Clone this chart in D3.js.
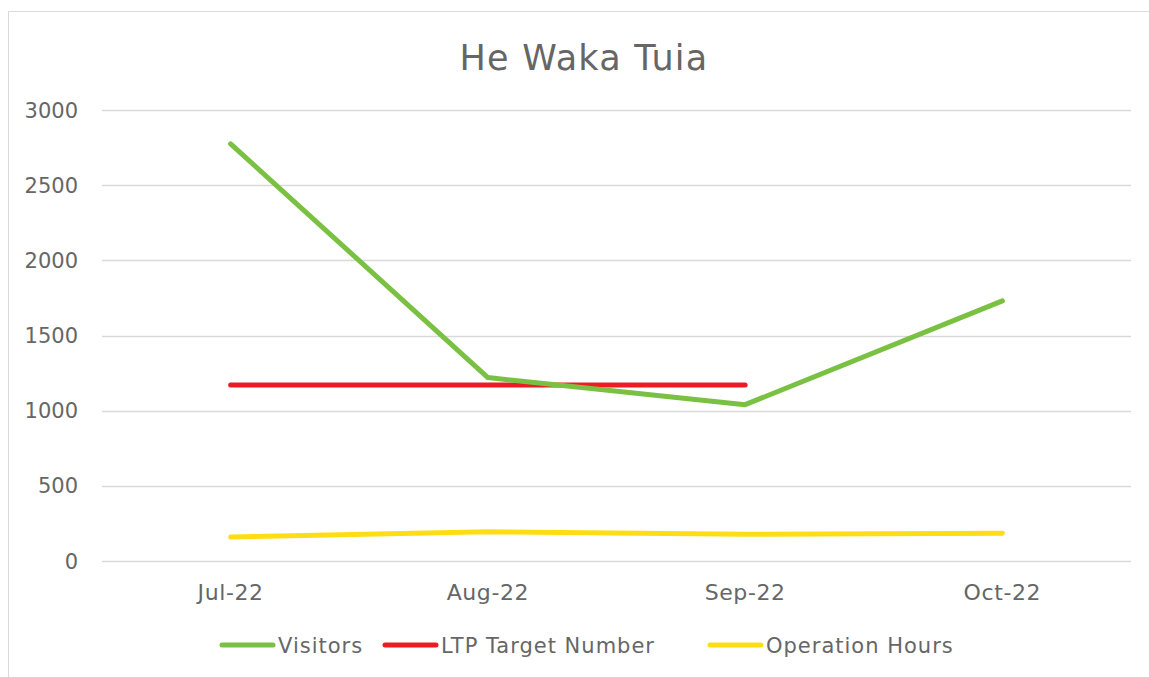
<!DOCTYPE html>
<html>
<head>
<meta charset="utf-8">
<script src="https://cdn.jsdelivr.net/npm/d3@7"></script>
<style>
  body { margin: 0; background: #fff; }
  svg { font-family: "DejaVu Sans", "Lato", sans-serif; }
</style>
</head>
<body>
<div id="chart"></div>
<script>
"use strict";

// Data
var months = ["Jul-22", "Aug-22", "Sep-22", "Oct-22"];
var visitors = [2775, 1220, 1040, 1730];
var ltpTarget = [1170, 1170, 1170, null];
var operationHours = [160, 195, 178, 185];
var yTicks = [0, 500, 1000, 1500, 2000, 2500, 3000];

var seriesNames = ["Visitors", "LTP Target Number", "Operation Hours"];
var seriesColors = ["#7AC143", "#ED1C24", "#FFDD15"];

// Dimensions
var width = 1149, height = 677;
var margin = {top: 110, right: 18, bottom: 116, left: 102};

var svg = d3.select("#chart").append("svg")
  .attr("width", width)
  .attr("height", height);

// chart frame
svg.append("rect")
  .attr("x", 8.5)
  .attr("y", 11.5)
  .attr("width", width)
  .attr("height", height)
  .attr("fill", "#fff")
  .attr("stroke", "#d9d9d9")
  .attr("stroke-width", 1);

var x = d3.scaleBand()
  .domain(months)
  .range([margin.left, width - margin.right]);

var y = d3.scaleLinear()
  .domain([0, 3000])
  .range([height - margin.bottom, margin.top]);

// Gridlines
svg.append("g")
  .selectAll("line")
  .data(yTicks)
  .enter()
  .append("line")
    .attr("x1", margin.left)
    .attr("x2", width - margin.right)
    .attr("y1", d => Math.round(y(d)) + 0.5)
    .attr("y2", d => Math.round(y(d)) + 0.5)
    .attr("stroke", "#d9d9d9")
    .attr("stroke-width", 1.5);

// Y axis labels
svg.append("g")
  .selectAll("text")
  .data(yTicks)
  .enter()
  .append("text")
    .attr("x", 78)
    .attr("y", d => y(d))
    .attr("dy", "0.36em")
    .attr("text-anchor", "end")
    .attr("font-size", 21)
    .attr("fill", "#666")
    .text(d => d);

// X axis labels
svg.append("g")
  .selectAll("text")
  .data(months)
  .enter()
  .append("text")
    .attr("x", d => x(d) + x.bandwidth()/2)
    .attr("y", 600)
    .attr("text-anchor", "middle")
    .attr("font-size", 22)
    .attr("letter-spacing", 0.6)
    .attr("fill", "#666")
    .text(d => d);

// Title
svg.append("text")
  .attr("x", 584)
  .attr("y", 70)
  .attr("text-anchor", "middle")
  .attr("font-size", 35)
  .attr("letter-spacing", 1.2)
  .attr("fill", "#666")
  .text("He Waka Tuia");

// Lines
var line = d3.line()
  .defined(d => d != null)
  .x((d, i) => x(months[i]) + x.bandwidth()/2)
  .y(d => y(d));

var allSeries = [visitors, ltpTarget, operationHours];

// yellow first, then red, green on top
[2, 1, 0].forEach(function(k) {
  svg.append("path")
    .datum(allSeries[k])
    .attr("fill", "none")
    .attr("stroke", seriesColors[k])
    .attr("stroke-width", 5)
    .attr("stroke-linecap", "round")
    .attr("stroke-linejoin", "round")
    .attr("d", line);
});

// Legend
var legendX = [220, 383, 708];
var legend = svg.append("g").attr("class", "legend");

legend.selectAll("line")
  .data(seriesNames)
  .enter()
  .append("line")
    .attr("x1", (d, i) => legendX[i] + 2)
    .attr("x2", (d, i) => legendX[i] + 53)
    .attr("y1", 645)
    .attr("y2", 645)
    .attr("stroke", (d, i) => seriesColors[i])
    .attr("stroke-width", 5)
    .attr("stroke-linecap", "round");

legend.selectAll("text")
  .data(seriesNames)
  .enter()
  .append("text")
    .attr("x", (d, i) => legendX[i] + 58)
    .attr("y", 645)
    .attr("dy", "0.36em")
    .attr("font-size", 21)
    .attr("letter-spacing", 1)
    .attr("fill", "#666")
    .text(d => d);
</script>
</body>
</html>
